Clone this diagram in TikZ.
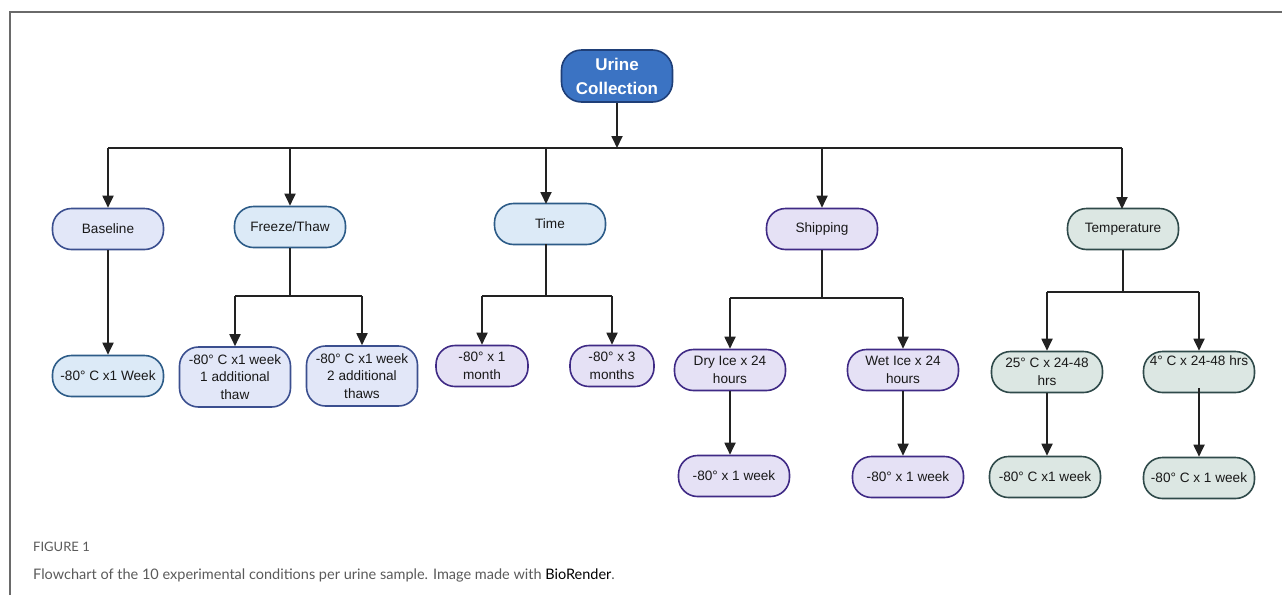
\documentclass[tikz,border=0pt]{standalone}
\usepackage{fontspec}
\setmainfont{Liberation Sans}
\newfontfamily\capfont{Lato}
\usetikzlibrary{arrows.meta}
\definecolor{rootfill}{HTML}{3B73C3}
\definecolor{rootdraw}{HTML}{1F3F78}
\definecolor{lbfill}{HTML}{DCEAF7}
\definecolor{lbdraw}{HTML}{2D5C88}
\definecolor{infill}{HTML}{E2E7F8}
\definecolor{indraw}{HTML}{3B4F8F}
\definecolor{pufill}{HTML}{E5E1F5}
\definecolor{pudraw}{HTML}{3F2A85}
\definecolor{grfill}{HTML}{DCE7E3}
\definecolor{grdraw}{HTML}{2F4A4A}
\definecolor{linec}{HTML}{222222}
\definecolor{framec}{HTML}{6A6A6A}
\definecolor{capgray}{HTML}{5A5A5A}
\tikzset{
  pill/.style={rounded corners=19pt, line width=1.6pt, minimum width=111pt, minimum height=41pt,
    align=center, inner sep=2pt, font=\fontsize{13.6}{17.5}\selectfont, text=black!90},
  lb/.style={pill, fill=lbfill, draw=lbdraw},
  inb/.style={pill, fill=infill, draw=indraw},
  pu/.style={pill, fill=pufill, draw=pudraw},
  gr/.style={pill, fill=grfill, draw=grdraw},
  arr/.style={line width=1.8pt, draw=linec, -{Triangle[length=12pt,width=11pt]}},
  ln/.style={line width=1.8pt, draw=linec},
}
\begin{document}
\begin{tikzpicture}[x=1pt,y=-1pt]
\useasboundingbox (0,0) rectangle (1282,595);
\draw[framec, line width=1.4pt] (10,595) -- (10,12) -- (1282,12);

% root
\node[rounded corners=20pt, line width=1.6pt, fill=rootfill, draw=rootdraw, minimum width=111pt,
  minimum height=52pt, align=center, inner sep=2pt, text=white,
  font=\fontsize{17}{24}\selectfont\bfseries] (root) at (617,76) {Urine\\Collection};

% level 1
\node[inb] (base) at (108,229) {Baseline};
\node[lb]  (ft)   at (290,227) {Freeze/Thaw};
\node[lb]  (time) at (550,224) {Time};
\node[pu]  (ship) at (822,229) {Shipping};
\node[gr]  (temp) at (1123,229) {Temperature};

% level 2
\node[lb]  (base1) at (108,376) {-80° C x1 Week};
\node[inb, minimum height=60pt] (ft1) at (235,377) {-80° C x1 week\\1 additional\\thaw};
\node[inb, minimum height=60pt] (ft2) at (362,376) {-80° C x1 week\\2 additional\\thaws};
\node[pu, minimum width=92pt] (time1) at (482,366) {-80° x 1\\month};
\node[pu, minimum width=84pt] (time2) at (612,366) {-80° x 3\\months};
\node[pu] (dry) at (730,370) {Dry Ice x 24\\hours};
\node[pu] (wet) at (903,370) {Wet Ice x 24\\hours};
\node[gr] (t25) at (1047,372) {25° C x 24-48\\hrs};
\node[gr] (t4)  at (1199,372) {4° C x 24-48 hrs\\\strut};

% level 3
\node[pu] (dry1) at (734,476) {-80° x 1 week};
\node[pu] (wet1) at (908,477) {-80° x 1 week};
\node[gr] (t251) at (1045,477) {-80° C x1 week};
\node[gr] (t41)  at (1199,478) {-80° C x 1 week};

% main bus
\coordinate (busL) at (108,148);
\coordinate (busR) at (1122,148);
\draw[arr] (root.south) -- (root.south |- busL);
\draw[ln] (busL) -- (busR);
\draw[arr] (busL) -- (base.north);
\draw[arr] (ft.north |- busL) -- (ft.north);
\draw[arr] (546,148) -- (546,204);
\draw[arr] (ship.north |- busL) -- (ship.north);
\draw[arr] (busR) -- (1122,209);

% baseline
\draw[arr] (base.south) -- (base1.north);

% freeze/thaw
\coordinate (ftbus) at (290,296);
\draw[ln] (ft.south) -- (ftbus);
\draw[ln] (ft1.north |- ftbus) -- (ft2.north |- ftbus);
\draw[arr] (ft1.north |- ftbus) -- (ft1.north);
\draw[arr] (ft2.north |- ftbus) -- (ft2.north);

% time
\coordinate (tbus) at (546,296);
\draw[ln] (546,244) -- (tbus);
\draw[ln] (time1.north |- tbus) -- (time2.north |- tbus);
\draw[arr] (time1.north |- tbus) -- (time1.north);
\draw[arr] (time2.north |- tbus) -- (time2.north);

% shipping
\coordinate (sbus) at (822,298);
\draw[ln] (ship.south) -- (sbus);
\draw[ln] (dry.north |- sbus) -- (wet.north |- sbus);
\draw[arr] (dry.north |- sbus) -- (dry.north);
\draw[arr] (wet.north |- sbus) -- (wet.north);
\draw[arr] (dry.south) -- (dry.south |- dry1.north);
\draw[arr] (wet.south) -- (wet.south |- wet1.north);

% temperature
\coordinate (tmbus) at (1123,292);
\draw[ln] (temp.south) -- (tmbus);
\draw[ln] (t25.north |- tmbus) -- (t4.north |- tmbus);
\draw[arr] (t25.north |- tmbus) -- (t25.north);
\draw[arr] (t4.north |- tmbus) -- (t4.north);
\draw[arr] (t25.south) -- (t25.south |- t251.north);
\draw[arr] ([yshift=5pt]t4.south) -- (t41.north);

% caption
\node[anchor=west, inner sep=0pt, text=capgray, font=\capfont\fontsize{13}{15}\selectfont] (figlab) at (33,547) {FIGURE 1};
\node[anchor=west, inner sep=0pt, text=capgray, font=\capfont\fontsize{14.5}{17}\selectfont] (cap) at (33,575)
  {Flowchart of the 10 experimental conditions per urine sample. Image made with \textcolor{black}{BioRender}.};
\end{tikzpicture}
\end{document}
